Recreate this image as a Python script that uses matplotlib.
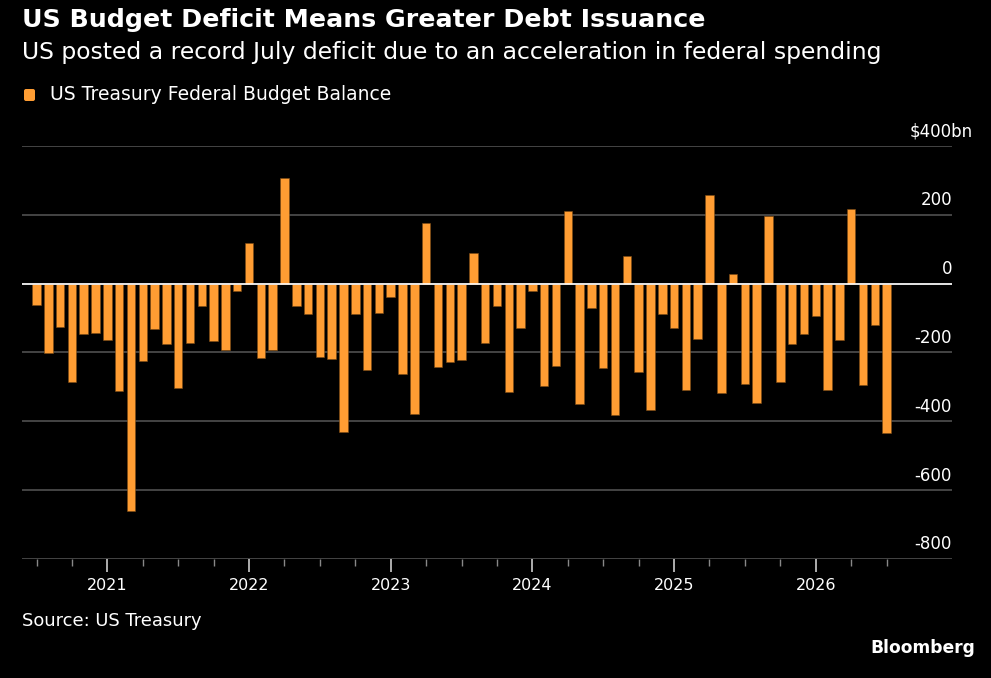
import matplotlib
matplotlib.use("Agg")
import matplotlib.pyplot as plt
import matplotlib.transforms as mtransforms
from matplotlib.patches import FancyBboxPatch
import numpy as np

# monthly federal budget balance, $bn, Jul 2020 .. Jul 2026
start_year, start_month = 2020, 7
balance = [
    -63, -201, -125, -285, -146, -144,
    -164, -312, -661, -226, -133, -175, -303, -171, -65, -166, -192, -21,
    117, -217, -193, 308, -66, -88, -213, -220, -431, -87, -250, -85,
    -38, -263, -380, 176, -242, -228, -222, 88, -171, -66, -315, -130,
    -21, -297, -238, 210, -349, -72, -246, -382, 80, -258, -368, -87,
    -129, -308, -161, 258, -317, 27, -292, -347, 197, -285, -174, -145,
    -94, -309, -165, 216, -294, -120, -434,
]
years = [2021, 2022, 2023, 2024, 2025, 2026]
y_ticks = [400, 200, 0, -200, -400, -600, -800]
y_labels = ["$400bn", "200", "0", "-200", "-400", "-600", "-800"]

title = "US Budget Deficit Means Greater Debt Issuance"
subtitle = "US posted a record July deficit due to an acceleration in federal spending"
legend_label = "US Treasury Federal Budget Balance"
source = "Source: US Treasury"

BG = "black"
BAR = "#FF9D33"
GRID = "#4a4a4a"

plt.rcParams['font.family'] = ['DejaVu Sans']

fig = plt.figure(figsize=(9.91, 6.78), dpi=100, facecolor=BG)
W, H = 991, 678
ax = fig.add_axes([22 / W, 1 - 559 / H, (952 - 22) / W, (559 - 146) / H])
ax.set_facecolor(BG)

x = np.arange(len(balance))
ax.bar(x, balance, width=0.72, color=BAR, edgecolor="#7a4a14", linewidth=0.4, zorder=3)

ax.set_xlim(-1.23, len(balance) - 1 + 5.54)
ax.set_ylim(-800, 400)

# gridlines + zero line
for v in y_ticks:
    ax.axhline(v, color=GRID, lw=1.3, zorder=1)
ax.axhline(0, color="white", lw=1.2, zorder=4)

for s in ax.spines.values():
    s.set_visible(False)

# x ticks: years major, quarters minor
month_offset = lambda yr: (yr - start_year) * 12 + (1 - start_month)
major = [month_offset(yr) for yr in years]
minor = [i for i in range(0, len(balance), 3) if i not in major]
ax.set_xticks(major)
ax.set_xticklabels([str(y) for y in years], color="white", fontsize=11.5)
ax.set_xticks(minor, minor=True)
ax.tick_params(axis='x', which='major', length=9, width=1.2, color="#cccccc", pad=5)
ax.tick_params(axis='x', which='minor', length=5, width=1.0, color="#888888")

# y labels sit above their gridlines, right aligned (unit suffix hangs past the edge)
ax.set_yticks(y_ticks)
ax.set_yticklabels(y_labels, color="white", fontsize=12)
ax.yaxis.tick_right()
ax.tick_params(axis='y', length=0, pad=0)
for lab in ax.get_yticklabels():
    dx = 0.21 if lab.get_text().endswith("bn") else 0
    offset = mtransforms.ScaledTranslation(dx, 4 / 72, fig.dpi_scale_trans)
    lab.set_horizontalalignment('right')
    lab.set_verticalalignment('bottom')
    lab.set_transform(lab.get_transform() + offset)

# header texts
fig.text(22 / W, 1 - 20 / H, title, color="white", fontsize=18.2, fontweight="bold", va="center")
fig.text(22 / W, 1 - 52 / H, subtitle, color="white", fontsize=16.9, va="center")
# legend swatch, drawn in pixel coordinates
fig.patches.append(FancyBboxPatch((24, H - 101), 11, 12,
                                  boxstyle="round,pad=0,rounding_size=2",
                                  transform=mtransforms.IdentityTransform(),
                                  facecolor=BAR, edgecolor="none"))
fig.text(50 / W, 1 - 95 / H, legend_label, color="white", fontsize=13.5, va="center")

fig.text(22 / W, 1 - 621 / H, source, color="white", fontsize=12.9, va="center")
fig.text(975 / W, 1 - 648 / H, "Bloomberg", color="white", fontsize=12.3, fontweight="bold",
         va="center", ha="right")

fig.savefig("out.png", dpi=100, facecolor=BG)
